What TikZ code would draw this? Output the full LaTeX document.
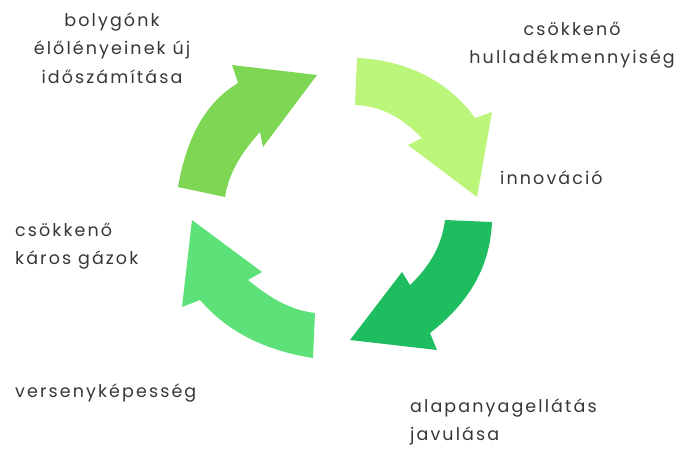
\documentclass[tikz,border=0pt]{standalone}
\usepackage{fontspec}
\setmainfont{Poppins}[LetterSpace=12]
\usepackage{tikz}
\definecolor{leafA}{RGB}{125,215,85}
\definecolor{leafB}{RGB}{187,246,122}
\definecolor{leafC}{RGB}{30,190,96}
\definecolor{leafD}{RGB}{92,226,120}
\definecolor{ink}{RGB}{55,55,55}

\begin{document}
\begin{tikzpicture}[x=1pt,y=-1pt]
      \tikzstyle{every node}=[text=ink,inner sep=0pt,
			      font=\fontsize{17.5}{28.5}\selectfont]
      \useasboundingbox (0,0) rectangle (678,451);
      % the four arrows of the cycle
      \fill[leafA] (178,187) .. controls (188,130) and (210,100) .. (238,83)
	  -- (232,65) -- (317,75) -- (263,147) -- (260,132)
	  .. controls (242,152) and (229,172) .. (225,197) -- cycle;
      \fill[leafB] (357,58) .. controls (410,60) and (452,85) .. (475,118)
	  -- (492,112) -- (477,197) -- (408,145) -- (422,138)
	  .. controls (400,116) and (380,106) .. (355,105) -- cycle;
      \fill[leafC] (492,222) .. controls (490,270) and (466,305) .. (430,333)
	  -- (437,350) -- (350,340) -- (402,272) -- (410,285)
	  .. controls (430,266) and (442,245) .. (445,220) -- cycle;
      \fill[leafD] (313,358) .. controls (262,350) and (226,330) .. (200,300)
	  -- (182,307) -- (192,220) -- (262,272) -- (248,280)
	  .. controls (270,298) and (290,310) .. (315,313) -- cycle;
      % labels
      \node (ido) [align=center] at (112,48)
	  {bolygónk\\élőlényeinek új\\időszámítása};
      \node (hull) [align=center,anchor=east] at (675,45)
	  {csökkenő\\hulladékmennyiség};
      \node (inno) [anchor=west] at (500,178) {innováció};
      \node (gaz) [anchor=west,align=left] at (15,246)
	  {csökkenő\\káros gázok};
      \node (verseny) [anchor=west] at (15,393) {versenyképesség};
      \node (alap) [anchor=west,align=left] at (410,422)
	  {alapanyagellátás\\javulása};
  \end{tikzpicture}
\end{document}
